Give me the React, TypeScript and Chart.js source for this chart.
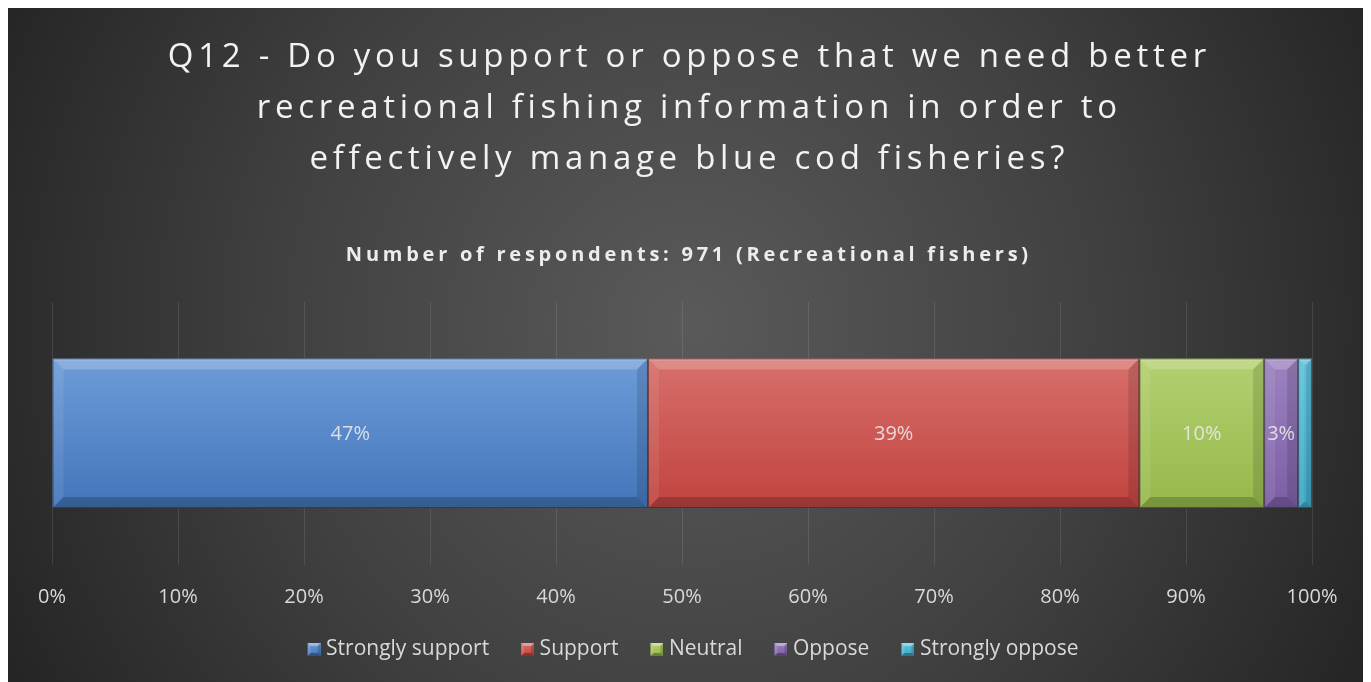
import React, { useEffect, useRef } from 'react';
import { Chart, registerables } from 'chart.js';

Chart.register(...registerables);

const TITLE_LINES = [
  'Q12 - Do you support or oppose that we need better',
  'recreational fishing information in order to',
  'effectively manage blue cod fisheries?',
];
const SUBTITLE = 'Number of respondents: 971 (Recreational fishers)';
const CATEGORIES = [''];
const SERIES_NAMES = ['Strongly support', 'Support', 'Neutral', 'Oppose', 'Strongly oppose'];
const SERIES_VALUES = [47.3, 39.0, 9.9, 2.7, 1.1];
const SERIES_TOP = ['#6e9cd8', '#d76f6b', '#b3d06f', '#9d83c0', '#62c3dd'];
const SERIES_BOTTOM = ['#4275ba', '#c1433f', '#97b84c', '#7c5da5', '#3ea5c3'];
const TICK_STEP = 10;
const X_MIN = 0;
const X_MAX = 100;

const FONT = "'Open Sans', 'Noto Sans', sans-serif";
const BAR_FRACTION = 0.57;
const LEGEND_BOX = 30;

function makeIcon(top: string, bottom: string): HTMLCanvasElement {
  const c = document.createElement('canvas');
  const W = LEGEND_BOX + 10;
  c.width = W;
  c.height = 13;
  const g = c.getContext('2d')!;
  g.translate(W - 13, 0);
  const lg = g.createLinearGradient(0, 0, 0, 13);
  lg.addColorStop(0, top);
  lg.addColorStop(1, bottom);
  g.fillStyle = lg;
  g.fillRect(0, 0, 13, 13);
  const b = 3;
  const poly = (pts: number[][], col: string) => {
    g.beginPath();
    g.moveTo(pts[0][0], pts[0][1]);
    for (let i = 1; i < pts.length; i++) g.lineTo(pts[i][0], pts[i][1]);
    g.closePath();
    g.fillStyle = col;
    g.fill();
  };
  poly([[0, 0], [13, 0], [13 - b, b], [b, b]], 'rgba(255,255,255,0.35)');
  poly([[0, 0], [b, b], [b, 13 - b], [0, 13]], 'rgba(255,255,255,0.15)');
  poly([[0, 13], [b, 13 - b], [13 - b, 13 - b], [13, 13]], 'rgba(0,0,0,0.3)');
  poly([[13, 0], [13, 13], [13 - b, 13 - b], [13 - b, b]], 'rgba(0,0,0,0.18)');
  return c;
}

const backgroundPlugin = {
  id: 'bgTitle',
  beforeDraw(chart: any) {
    const { ctx, width, height } = chart;
    ctx.save();
    const rg = ctx.createRadialGradient(width * 0.5, height * 0.47, 0, width * 0.5, height * 0.47, 760);
    rg.addColorStop(0, '#5a5a5a');
    rg.addColorStop(0.55, '#404040');
    rg.addColorStop(1, '#252525');
    ctx.fillStyle = rg;
    ctx.fillRect(0, 0, width, height);

    const cx = 679;
    ctx.fillStyle = '#f2f2f2';
    ctx.textAlign = 'center';
    ctx.textBaseline = 'alphabetic';
    ctx.font = `33px ${FONT}`;
    (ctx as any).letterSpacing = '0px';
    const w0 = ctx.measureText(TITLE_LINES[0]).width;
    const sp = (1043 - w0) / TITLE_LINES[0].length;
    (ctx as any).letterSpacing = `${sp}px`;
    const baselines = [60, 111, 162];
    TITLE_LINES.forEach((line, i) => {
      ctx.fillText(line, cx + sp / 2, baselines[i]);
    });

    ctx.font = `bold 20px ${FONT}`;
    ctx.fillStyle = '#ececec';
    (ctx as any).letterSpacing = '0px';
    const s0 = ctx.measureText(SUBTITLE).width;
    const ssp = (686 - s0) / SUBTITLE.length;
    (ctx as any).letterSpacing = `${ssp}px`;
    ctx.fillText(SUBTITLE, 679 + ssp / 2, 254);
    (ctx as any).letterSpacing = '0px';
    ctx.restore();
  },
};

const bevelLabelPlugin = {
  id: 'bevelLabels',
  afterDatasetsDraw(chart: any) {
    const ctx = chart.ctx as CanvasRenderingContext2D;
    const poly = (pts: number[][], col: string) => {
      ctx.beginPath();
      ctx.moveTo(pts[0][0], pts[0][1]);
      for (let i = 1; i < pts.length; i++) ctx.lineTo(pts[i][0], pts[i][1]);
      ctx.closePath();
      ctx.fillStyle = col;
      ctx.fill();
    };
    ctx.save();
    chart.data.datasets.forEach((ds: any, i: number) => {
      const meta = chart.getDatasetMeta(i);
      meta.data.forEach((el: any, j: number) => {
        const p = el.getProps(['x', 'y', 'base', 'height'], true);
        const l = Math.min(p.x, p.base);
        const r = Math.max(p.x, p.base);
        const t = p.y - p.height / 2;
        const b = p.y + p.height / 2;
        const w = r - l;
        const bv = Math.min(11, w / 2.4, p.height / 4);
        poly([[l, t], [r, t], [r - bv, t + bv], [l + bv, t + bv]], 'rgba(255,255,255,0.2)');
        poly([[l, t], [l + bv, t + bv], [l + bv, b - bv], [l, b]], 'rgba(255,255,255,0.08)');
        poly([[l, b], [l + bv, b - bv], [r - bv, b - bv], [r, b]], 'rgba(0,0,0,0.2)');
        poly([[r, t], [r, b], [r - bv, b - bv], [r - bv, t + bv]], 'rgba(0,0,0,0.12)');
        ctx.strokeStyle = 'rgba(35,35,35,0.55)';
        ctx.lineWidth = 1;
        ctx.strokeRect(l + 0.5, t + 0.5, w - 1, p.height - 1);
        ctx.beginPath();
        ctx.moveTo(l + 1, t + 1.5);
        ctx.lineTo(r - 1, t + 1.5);
        ctx.strokeStyle = 'rgba(255,255,255,0.25)';
        ctx.stroke();

        const v = ds.data[j];
        if (v >= 2) {
          ctx.font = `20px ${FONT}`;
          ctx.fillStyle = 'rgba(235,235,235,0.88)';
          ctx.textAlign = 'center';
          ctx.textBaseline = 'middle';
          ctx.fillText(`${Math.round(v)}%`, (l + r) / 2, p.y + 1);
        }
      });
    });
    ctx.restore();
  },
};

export default function App() {
  const ref = useRef<HTMLCanvasElement | null>(null);

  useEffect(() => {
    if (!ref.current) return;
    const icons = SERIES_NAMES.map((_, i) => makeIcon(SERIES_TOP[i], SERIES_BOTTOM[i]));
    const datasets = SERIES_NAMES.map((name, i) => ({
      label: name,
      data: [SERIES_VALUES[i]],
      backgroundColor: (c: any) => {
        const area = c.chart.chartArea;
        if (!area) return SERIES_BOTTOM[i];
        const mid = (area.top + area.bottom) / 2;
        const half = ((area.bottom - area.top) * BAR_FRACTION) / 2;
        const g = c.chart.ctx.createLinearGradient(0, mid - half, 0, mid + half);
        g.addColorStop(0, SERIES_TOP[i]);
        g.addColorStop(1, SERIES_BOTTOM[i]);
        return g;
      },
      borderWidth: 0,
      pointStyle: icons[i],
      barPercentage: BAR_FRACTION,
      categoryPercentage: 1,
    }));

    const chart = new Chart(ref.current, {
      type: 'bar',
      data: { labels: CATEGORIES, datasets },
      options: {
        indexAxis: 'y',
        animation: false,
        responsive: true,
        maintainAspectRatio: false,
        layout: { padding: { left: 44, right: 59, top: 295, bottom: 12 } },
        scales: {
          x: {
            stacked: true,
            min: X_MIN,
            max: X_MAX,
            ticks: {
              stepSize: TICK_STEP,
              padding: 21,
              color: '#d9d9d9',
              font: { family: FONT, size: 20 },
              callback: (v: any) => `${v}%`,
            },
            grid: { color: 'rgba(255,255,255,0.1)', drawTicks: false, lineWidth: 1 },
            border: { display: false },
            afterFit: (scale: any) => {
              scale.height = 64.5;
            },
          },
          y: {
            stacked: true,
            display: false,
          },
        },
        plugins: {
          title: { display: false },
          tooltip: { enabled: false },
          legend: {
            display: true,
            position: 'bottom',
            labels: {
              usePointStyle: true,
              pointStyleWidth: LEGEND_BOX,
              boxWidth: LEGEND_BOX,
              boxHeight: 13,
              padding: 10,
              color: '#d9d9d9',
              font: { family: FONT, size: 21 },
            },
          },
        },
      } as any,
      plugins: [backgroundPlugin, bevelLabelPlugin],
    });
    return () => chart.destroy();
  }, []);

  return (
    <div style={{ width: 1363, height: 675, marginTop: -1, position: 'relative' }}>
      <canvas ref={ref} />
    </div>
  );
}
